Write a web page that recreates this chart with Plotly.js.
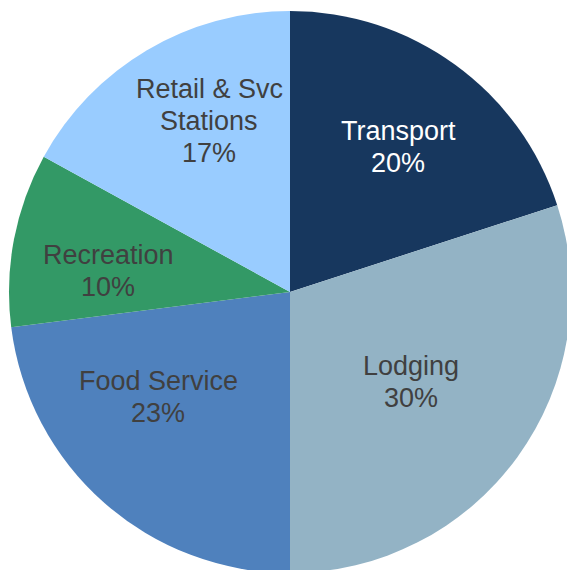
<!DOCTYPE html>
<html>
<head>
<meta charset="utf-8">
<script src="https://cdn.plot.ly/plotly-3.0.1.min.js"></script>
<style>
html,body{margin:0;padding:0;overflow:hidden;background:#fff;}
#chart{width:580px;height:580px;}
</style>
</head>
<body>
<div id="chart"></div>
<script>
var categories = ["Transport", "Lodging", "Food Service", "Recreation", "Retail & Svc<br>Stations"];
var shares = [20, 30, 23, 10, 17];
var sliceColors = ["#17375E", "#93B3C5", "#4F81BD", "#339966", "#99CCFF"];
var textColors = ["#FFFFFF", "#404040", "#404040", "#404040", "#404040"];
// label placement (layout only): radius fraction and angle tweak (deg) from slice mid-angle
var labelRadius = [0.644, 0.537, 0.600, 0.652, 0.673];
var labelAngleShift = [0.7, 0.6, 10.1, -4.2, 5.3];
var lineGap = 32;

var W = 580, H = 580;
var cx = 290, cy = 292, R = 281;

var trace = {
  type: "pie",
  labels: categories,
  values: shares,
  sort: false,
  direction: "clockwise",
  rotation: 0,
  marker: {colors: sliceColors, line: {color: "#FFFFFF", width: 0}},
  textinfo: "none",
  hoverinfo: "label+percent",
  showlegend: false,
  domain: {
    x: [(cx - R) / W, (cx + R) / W],
    y: [(H - cy - R) / H, (H - cy + R) / H]
  }
};

var total = shares.reduce(function (a, b) { return a + b; }, 0);
var annotations = [];
var cum = 0;
for (var i = 0; i < shares.length; i++) {
  var mid = (cum + shares[i] / 2) / total * 360 + labelAngleShift[i];
  cum += shares[i];
  var th = mid * Math.PI / 180;
  var px = cx + labelRadius[i] * R * Math.sin(th);
  var py = cy - labelRadius[i] * R * Math.cos(th);
  var lines = categories[i].split("<br>");
  lines.push(Math.round(shares[i] / total * 100) + "%");
  var n = lines.length;
  for (var k = 0; k < n; k++) {
    annotations.push({
      xref: "paper", yref: "paper",
      x: px / W, y: (H - py) / H,
      yshift: -(k - (n - 1) / 2) * lineGap,
      xanchor: "center", yanchor: "middle",
      text: lines[k],
      showarrow: false,
      align: "center",
      font: {family: "Liberation Sans, Arial, sans-serif", size: 27, color: textColors[i]}
    });
  }
}

var layout = {
  width: W,
  height: H,
  margin: {l: 0, r: 0, t: 0, b: 0},
  paper_bgcolor: "#FFFFFF",
  showlegend: false,
  annotations: annotations
};

Plotly.newPlot("chart", [trace], layout, {displayModeBar: false, staticPlot: true});
</script>
</body>
</html>
